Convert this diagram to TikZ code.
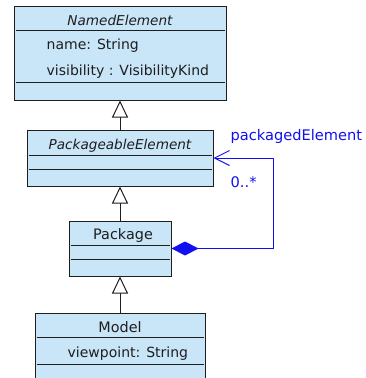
\documentclass[tikz,border=0pt]{standalone}
\usepackage{fontspec}
\setmainfont{DejaVu Sans}
\usetikzlibrary{arrows.meta,positioning}
\definecolor{Ink}{HTML}{1E1E1E}
\definecolor{ClassFill}{HTML}{C9E5F8}
\definecolor{Assoc}{HTML}{1010F0}
\tikzset{
  classbox/.style={draw=Ink,fill=ClassFill,line width=1pt,inner sep=0pt},
  classname/.style={text=Ink,font=\fontsize{13.6}{15}\selectfont,inner sep=0pt},
  attr/.style={text=Ink,font=\fontsize{14}{16}\selectfont,inner sep=0pt,anchor=west},
  comprule/.style={draw=Ink,line width=1pt},
  inherit/.style={-{Triangle[open,length=17pt,width=16pt,fill=white]},draw=Ink,line width=1pt},
  compose/.style={{Diamond[length=27pt,width=14pt]}-{Straight Barb[length=15pt,width=15pt]},draw=Assoc,line width=1pt},
  role/.style={text=Assoc,font=\fontsize{14.6}{16}\selectfont,inner sep=0pt,anchor=west}
}
\newcommand{\classrule}[2]{\draw[comprule] ([xshift=2pt,yshift=-#2pt]#1.north west) -- ([xshift=-2pt,yshift=-#2pt]#1.north east);}
\begin{document}
\begin{tikzpicture}[x=1pt,y=-1pt]
  \useasboundingbox (0,0) rectangle (366,378);
  \clip (0,0) rectangle (366,378);
  % classes
  \node[classbox,minimum width=212pt,minimum height=94pt] (namedElement) at (120,53) {};
  \node[classbox,minimum width=186pt,minimum height=56pt,below=29pt of namedElement] (packageableElement) {};
  \node[classbox,minimum width=102pt,minimum height=55pt,below=34pt of packageableElement] (package) {};
  \node[classbox,minimum width=170pt,minimum height=80pt,below=36pt of package] (model) {};
  % names and attributes
  \node[classname] (namedElementName) at ([yshift=-15pt]namedElement.north) {\itshape NamedElement};
  \node[attr] (nameAttr) at ([xshift=33pt,yshift=-40pt]namedElement.north west) {name: String};
  \node[attr] (visibilityAttr) at ([xshift=33pt,yshift=-66pt]namedElement.north west) {visibility : VisibilityKind};
  \classrule{namedElement}{25}
  \classrule{namedElement}{77}
  \node[classname] (packageableElementName) at ([yshift=-16pt]packageableElement.north) {\itshape PackageableElement};
  \classrule{packageableElement}{26}
  \classrule{packageableElement}{40}
  \node[classname,font=\fontsize{14.4}{16}\selectfont] (packageName) at ([xshift=3pt,yshift=-15pt]package.north) {Package};
  \classrule{package}{25}
  \classrule{package}{39}
  \node[classname,font=\fontsize{14.4}{16}\selectfont] (modelName) at ([yshift=-15pt]model.north) {Model};
  \node[attr] (viewpointAttr) at ([xshift=33pt,yshift=-41pt]model.north west) {viewpoint: String};
  \classrule{model}{25}
  \classrule{model}{52}
  % generalizations
  \draw[inherit] (packageableElement.north) -- (namedElement.south);
  \draw[inherit] (package.north) -- (packageableElement.south);
  \draw[inherit] (model.north) -- (package.south);
  % composition
  \coordinate (loopCorner) at (273,158);
  \draw[compose] (package.east) -- (package.east -| loopCorner) |- (packageableElement.east);
  \node[role] (roleName) at ([xshift=17pt,yshift=22pt]packageableElement.east) {packagedElement};
  \node[role] (roleMult) at ([xshift=17pt,yshift=-24pt]packageableElement.east) {0..*};
\end{tikzpicture}
\end{document}
